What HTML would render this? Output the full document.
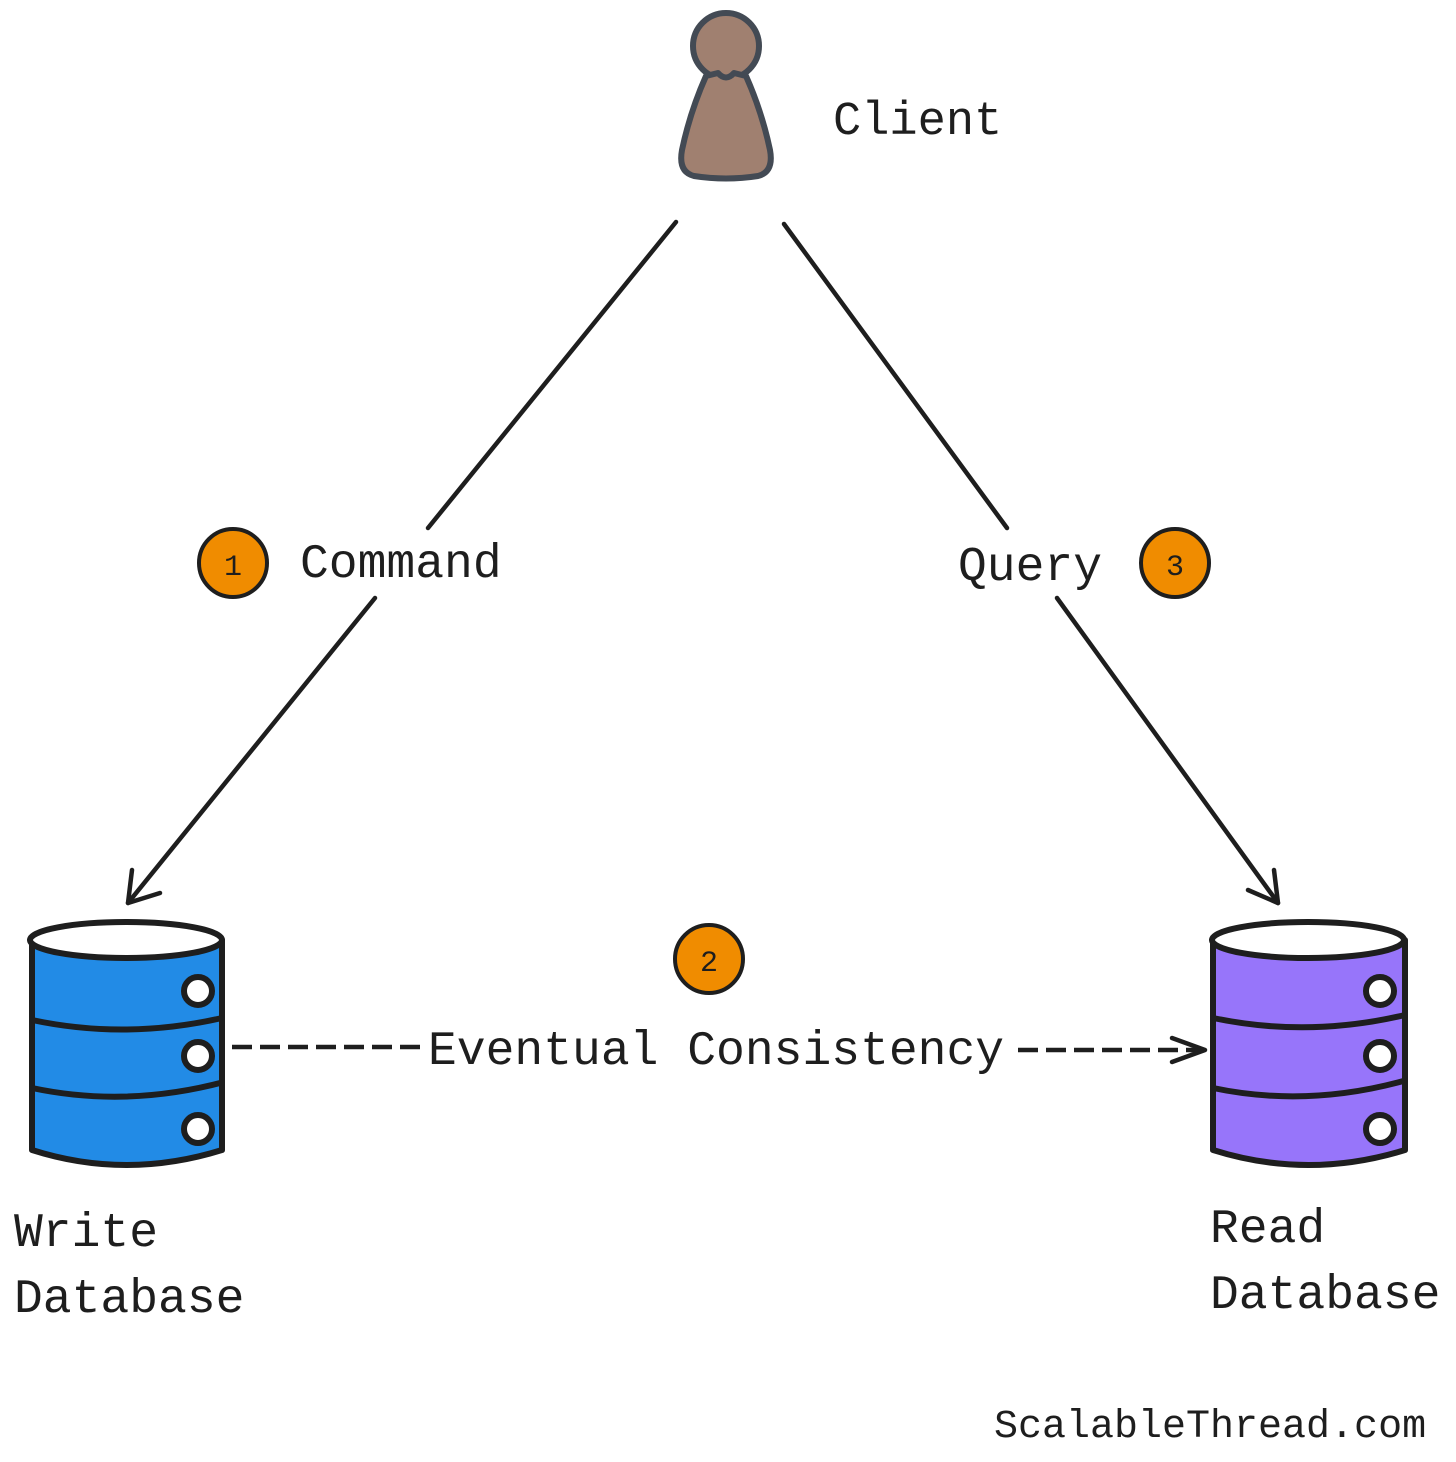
<!DOCTYPE html>
<html><head><meta charset="utf-8"><style>
html,body{margin:0;padding:0;background:#fff;}
svg{display:block;}
text{font-family:"Liberation Mono",monospace;fill:#1e1e1e;}
</style></head><body>
<svg width="1456" height="1462" viewBox="0 0 1456 1462" xmlns="http://www.w3.org/2000/svg">
<!-- Client -->
<circle cx="726" cy="46" r="33" fill="#a08070" stroke="#434a54" stroke-width="6"/>
<path d="M706,76 L718,73 Q726,82 734,73 L746,76 Q762,112 770,150 Q774,172 758,176 Q726,181 694,176 Q678,172 682,150 Q690,112 706,76 Z" fill="#a08070" stroke="#434a54" stroke-width="6" stroke-linejoin="round"/>
<text x="833" y="134" font-size="47" font-weight="500">Client</text>

<g stroke="#1e1e1e" stroke-width="4.5" fill="none" stroke-linecap="round" stroke-linejoin="round">
<!-- Command -->
<line x1="676" y1="222" x2="428" y2="528"/>
<line x1="375" y1="598" x2="128" y2="903"/>
<path d="M132,870 L128,903 L160,893"/>
<!-- Query -->
<line x1="784" y1="224" x2="1007" y2="528"/>
<line x1="1057" y1="598" x2="1278" y2="903"/>
<path d="M1248,890 L1278,903 L1274,870"/>
<!-- dashed -->
<line x1="232" y1="1047" x2="428" y2="1047" stroke-dasharray="20,8" stroke-linecap="butt"/>
<line x1="1018" y1="1050" x2="1205" y2="1050" stroke-dasharray="20,8" stroke-linecap="butt"/>
<path d="M1172,1038 L1205,1050 L1172,1062"/>
</g>

<!-- badges -->
<g stroke="#1e1e1e" stroke-width="4" fill="#f08c00">
<circle cx="233" cy="563" r="34"/>
<circle cx="709" cy="959" r="34"/>
<circle cx="1175" cy="563" r="34"/>
</g>
<text x="233" y="575" font-size="30" text-anchor="middle">1</text>
<text x="709" y="971" font-size="30" text-anchor="middle">2</text>
<text x="1175" y="575" font-size="30" text-anchor="middle">3</text>

<text x="300" y="577" font-size="48" font-weight="500">Command</text>
<text x="958" y="580" font-size="48" font-weight="500">Query</text>
<text x="428" y="1064" font-size="48" font-weight="500">Eventual Consistency</text>

<!-- Write DB -->
<g stroke="#1e1e1e" stroke-width="6" stroke-linejoin="round">
<path d="M32,940 L32,1150 Q126,1180 222,1150 L222,940 Z" fill="#228be6"/>
<path d="M32,1020 Q126,1040 222,1018" fill="none"/>
<path d="M32,1088 Q126,1108 224,1082" fill="none"/>
<ellipse cx="126" cy="940" rx="96" ry="18" fill="#fff"/>
<circle cx="198" cy="991" r="14" fill="#fff"/>
<circle cx="198" cy="1056" r="14" fill="#fff"/>
<circle cx="198" cy="1129" r="14" fill="#fff"/>
</g>
<!-- Read DB -->
<g stroke="#1e1e1e" stroke-width="6" stroke-linejoin="round">
<path d="M1213,940 L1213,1150 Q1308,1180 1405,1150 L1405,940 Z" fill="#9775fa"/>
<path d="M1213,1018 Q1308,1038 1405,1015" fill="none"/>
<path d="M1213,1088 Q1308,1108 1407,1080" fill="none"/>
<ellipse cx="1308" cy="940" rx="96" ry="18" fill="#fff"/>
<circle cx="1380" cy="991" r="14" fill="#fff"/>
<circle cx="1380" cy="1056" r="14" fill="#fff"/>
<circle cx="1380" cy="1129" r="14" fill="#fff"/>
</g>

<text x="14" y="1246" font-size="48" font-weight="500">Write</text>
<text x="14" y="1312" font-size="48" font-weight="500">Database</text>
<text x="1210" y="1242" font-size="48" font-weight="500">Read</text>
<text x="1210" y="1308" font-size="48" font-weight="500">Database</text>

<text x="994" y="1437" font-size="40">ScalableThread.com</text>
</svg>
</body></html>
